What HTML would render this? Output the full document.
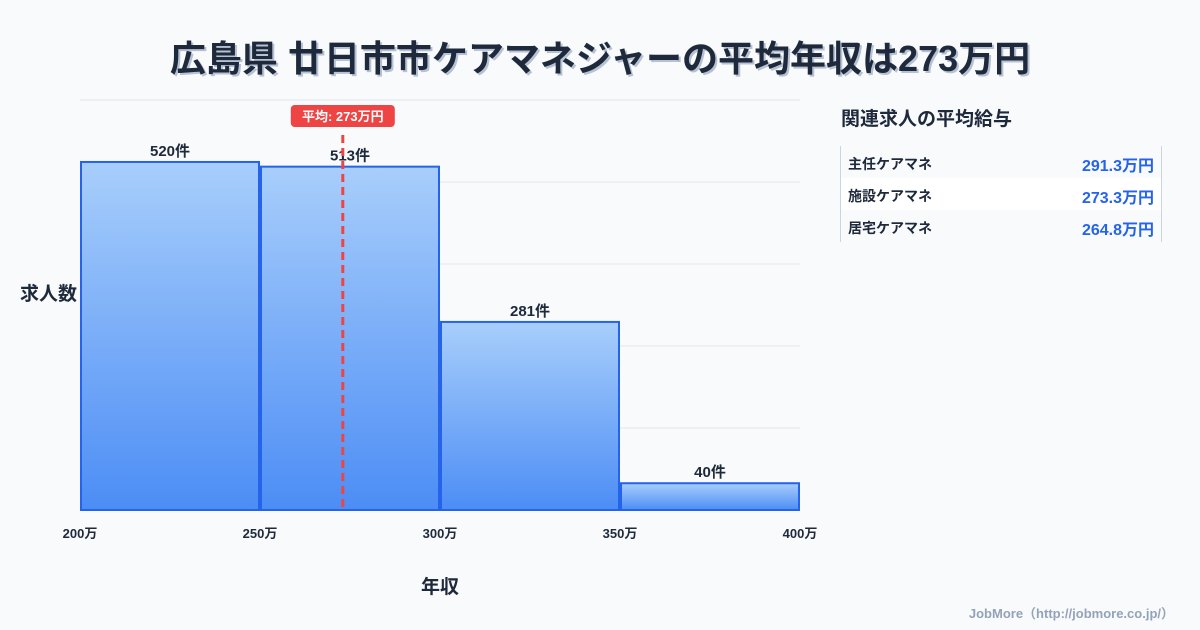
<!DOCTYPE html>
<html><head><meta charset="utf-8"><style>
body{margin:0;width:1200px;height:630px;background:#f8fafc;font-family:"Liberation Sans","Noto Sans CJK JP",sans-serif;overflow:hidden;position:relative}
.abs{position:absolute}
</style></head><body>
<div class="abs" style="left:0;top:30px;width:1200px;text-align:center;font-size:36px;font-weight:700;color:#1e293b;text-shadow:2px 2px 0 #b6c2d4">広島県 廿日市市ケアマネジャーの平均年収は273万円</div>
<svg class="abs" style="left:0;top:0" width="1200" height="630">
<defs><linearGradient id="g" x1="0" y1="0" x2="0" y2="1"><stop offset="0" stop-color="#a8cefb"/><stop offset="1" stop-color="#4c8df5"/></linearGradient></defs>
<g id="grid"></g><g id="bars"></g><g id="xt"></g><g id="avg"></g>
<text x="440" y="593" font-size="19" font-weight="700" fill="#1e293b" text-anchor="middle">年収</text>
<text x="20" y="300" font-size="19" font-weight="700" fill="#1e293b">求人数</text>
</svg>
<div class="abs" style="left:841px;top:104px;font-size:19px;font-weight:700;color:#1e293b">関連求人の平均給与</div>
<div class="abs" style="left:840px;top:146px;width:320px;height:96px;border-left:1px solid #cbd5e1;border-right:1px solid #cbd5e1">
<div style="height:32px;display:flex;justify-content:space-between;align-items:center;padding:3px 7px 0;box-sizing:border-box;font-size:14px;font-weight:700;color:#1e293b"><span>主任ケアマネ</span><span style="color:#2563eb;font-size:16px">291.3万円</span></div>
<div style="height:32px;background:#fff;display:flex;justify-content:space-between;align-items:center;padding:3px 7px 0;box-sizing:border-box;font-size:14px;font-weight:700;color:#1e293b"><span>施設ケアマネ</span><span style="color:#2563eb;font-size:16px">273.3万円</span></div>
<div style="height:32px;display:flex;justify-content:space-between;align-items:center;padding:3px 7px 0;box-sizing:border-box;font-size:14px;font-weight:700;color:#1e293b"><span>居宅ケアマネ</span><span style="color:#2563eb;font-size:16px">264.8万円</span></div>
</div>
<div class="abs" style="right:26px;top:603px;font-size:13px;font-weight:700;color:#94a3b8">JobMore（http://jobmore.co.jp/）</div>
<script>
const binStarts=[200,250,300,350];
const binWidth=50;
const counts=[520,513,281,40];
const xTicks=[200,250,300,350,400];
const avgValue=273;
const X0=80,X1=800,Y0=510,Y1=100,xmin=200,xmax=400,ymax=612.6;
const sx=v=>X0+(v-xmin)/(xmax-xmin)*(X1-X0);
const sy=v=>Y0-v/ymax*(Y0-Y1);
const NS='http://www.w3.org/2000/svg';
function mk(t,a,p){const e=document.createElementNS(NS,t);for(const k in a)e.setAttribute(k,a[k]);document.getElementById(p).appendChild(e);return e;}
for(let i=0;i<=5;i++){const y=Y1+i*(Y0-Y1)/5;const l=mk('line',{x1:X0,x2:X1,y1:y,y2:y,stroke:'#e2e8f0','stroke-width':1},'grid');

}
counts.forEach((c,i)=>{const x=sx(binStarts[i])+1,w=sx(binStarts[i]+binWidth)-sx(binStarts[i])-2,y=sy(c);
const r=mk('rect',{x:x,y:y,width:w,height:Y0-y,fill:'url(#g)',stroke:'#2563eb','stroke-width':2},'bars');


const t=mk('text',{x:x+w/2,y:y-6,'font-size':15,'font-weight':700,fill:'#1e293b','text-anchor':'middle'},'bars');t.textContent=c+'件';

});
xTicks.forEach(v=>{const t=mk('text',{x:sx(v),y:538,'font-size':13,'font-weight':700,fill:'#1e293b','text-anchor':'middle'},'xt');t.textContent=v+'万';

});
const ax=sx(avgValue);
const al=mk('line',{x1:ax,x2:ax,y1:135,y2:Y0,stroke:'#ef4444','stroke-width':3,'stroke-dasharray':'8,5'},'avg');


const ab=mk('rect',{x:ax-52,y:105,width:104,height:22,rx:4,fill:'#ef4444'},'avg');


const at=mk('text',{x:ax,y:121,'font-size':13,'font-weight':700,fill:'#fff','text-anchor':'middle'},'avg');at.textContent='平均: '+avgValue+'万円';


</script>
</body></html>
